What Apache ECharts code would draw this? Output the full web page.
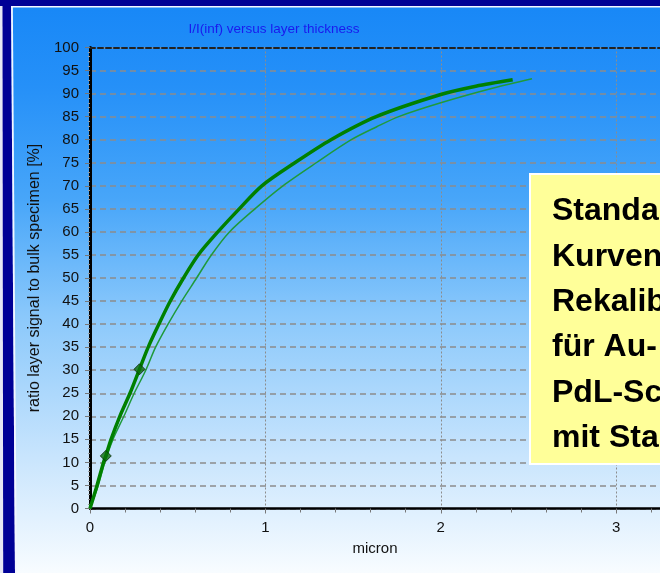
<!DOCTYPE html>
<html><head><meta charset="utf-8">
<script src="https://cdn.jsdelivr.net/npm/echarts@6/dist/echarts.min.js"></script>
<style>html,body{margin:0;padding:0;overflow:hidden;background:#fff}#c{width:660px;height:573px}</style>
</head><body><div id="c"></div>
<script>
// ---- data ----
const thickCurve = [[0,0],[0.04,5],[0.077,10],[0.09,11.4],[0.12,15],[0.17,20],[0.228,25],[0.282,30.2],[0.332,35],[0.393,40],[0.458,45],[0.533,50],[0.617,55],[0.729,60],[0.851,65],[0.98,70],[1.168,75],[1.374,80],[1.632,85],[2.0,89.8],[2.2,91.6],[2.41,93.0]];
const thinCurve = [[0,0],[0.047,5],[0.084,10],[0.131,15],[0.193,20],[0.252,25],[0.318,30],[0.374,35],[0.445,40],[0.523,45],[0.608,50],[0.692,55],[0.795,60],[0.94,65],[1.1,70],[1.29,75],[1.49,80],[1.635,82.8],[1.76,85],[2.0,88.0],[2.3,91.2],[2.52,93.2]];
const markerPoints = [[0.09,11.4],[0.282,30.2]];
const xTickLabels = ['0','1','2','3'];
const titleText = 'I/I(inf) versus layer thickness';
const xName = 'micron';
const yName = 'ratio layer signal to bulk specimen [%]';
const noteLines = ['Standard-','Kurven zur','Rekalibrierung','für Au- und','PdL-Schichten','mit Standards'];

const font = 'Arial, "Liberation Sans", sans-serif';
const chart = echarts.init(document.getElementById('c'));
chart.setOption({
  animation: false,
  backgroundColor: new echarts.graphic.LinearGradient(0, 0, 0, 1, [
    {offset: 0, color: '#1787f7'},
    {offset: 0.15, color: '#2590f8'},
    {offset: 0.35, color: '#48a6f9'},
    {offset: 0.55, color: '#8ac8fb'},
    {offset: 0.8, color: '#c9e5fd'},
    {offset: 1, color: '#f8fcff'}
  ]),
  title: {
    text: titleText, left: 274, top: 22, padding: 0, textAlign: 'center',
    textStyle: {color: '#1a1aee', fontSize: 13.5, fontWeight: 'normal', fontFamily: font}
  },
  grid: {left: 90, top: 47.5, height: 461, right: -9.5, containLabel: false},
  xAxis: [{
    type: 'value', min: 0, max: 3.25, interval: 1, position: 'bottom',
    name: xName, nameLocation: 'middle', nameGap: 33,
    nameTextStyle: {color: '#111', fontSize: 15, fontFamily: font},
    axisLine: {show: true, onZero: false, lineStyle: {color: '#000', width: 2.5}},
    axisTick: {show: true, length: 5, lineStyle: {color: '#777'}},
    minorTick: {show: true, splitNumber: 5, length: 4, lineStyle: {color: '#777'}},
    axisLabel: {color: '#111', fontSize: 15, fontFamily: font, margin: 12, showMaxLabel: false,
      formatter: v => (Number.isInteger(v) && xTickLabels[v] !== undefined) ? xTickLabels[v] : ''},
    splitLine: {show: true, lineStyle: {color: '#8c8c8c', type: [2, 2], width: 1}}
  }, {
    type: 'value', min: 0, max: 3.25, position: 'top',
    axisLine: {show: true, onZero: false, lineStyle: {color: '#222', type: [5, 3], width: 2}},
    axisTick: {show: false}, axisLabel: {show: false}, splitLine: {show: false}
  }],
  yAxis: {
    type: 'value', min: 0, max: 100, interval: 5,
    name: yName, nameLocation: 'middle', nameGap: 43,
    nameTextStyle: {color: '#111', fontSize: 16, fontFamily: font},
    axisLine: {show: true, onZero: false, lineStyle: {color: '#000', width: 3}},
    axisTick: {show: true, length: 5, lineStyle: {color: '#777'}},
    minorTick: {show: true, splitNumber: 5, length: 2, lineStyle: {color: '#999'}},
    axisLabel: {color: '#111', fontSize: 15, fontFamily: font, margin: 11},
    splitLine: {show: true, lineStyle: {color: '#8c8c8c', type: [6, 4], width: 1.5}}
  },
  series: [{
    type: 'line', data: thinCurve, showSymbol: false, smooth: 0.3,
    lineStyle: {color: '#1f9a3c', width: 1.5}, z: 3
  }, {
    type: 'line', data: thickCurve, showSymbol: false, smooth: 0.3,
    lineStyle: {color: '#008000', width: 3.5, join: 'round'}, z: 4
  }, {
    type: 'scatter', data: markerPoints, symbol: 'diamond', symbolSize: 11,
    itemStyle: {color: '#0a6e0a', borderColor: '#0c2a0c', borderWidth: 1}, z: 5
  }],
  graphic: [
    {type: 'rect', z: 100, shape: {x: 530, y: 174, width: 160, height: 290},
      style: {fill: '#ffff99', stroke: '#ffffff', lineWidth: 2}},
    {type: 'text', z: 101, x: 552, y: 189,
      style: {text: noteLines.join('\n'), fill: '#000', font: 'bold 32px ' + font,
        lineHeight: 45.3, verticalAlign: 'top', align: 'left'}},
    {type: 'rect', z: 110, shape: {x: 0, y: 0, width: 3.2, height: 573}, style: {fill: '#e6e6f4'}},
    {type: 'polygon', z: 110, shape: {points: [[2.5, 0], [11, 0], [15, 573], [3.2, 573]]}, style: {fill: '#000096'}},
    {type: 'polygon', z: 110, shape: {points: [[11, 0], [12.8, 0], [16.8, 573], [15, 573]]}, style: {fill: '#f4f6ff'}},
    {type: 'rect', z: 111, shape: {x: 0, y: 0, width: 660, height: 6}, style: {fill: '#000096'}},
    {type: 'rect', z: 111, shape: {x: 11, y: 6, width: 649, height: 1.4}, style: {fill: '#f4f6ff'}}
  ]
});
</script></body></html>
